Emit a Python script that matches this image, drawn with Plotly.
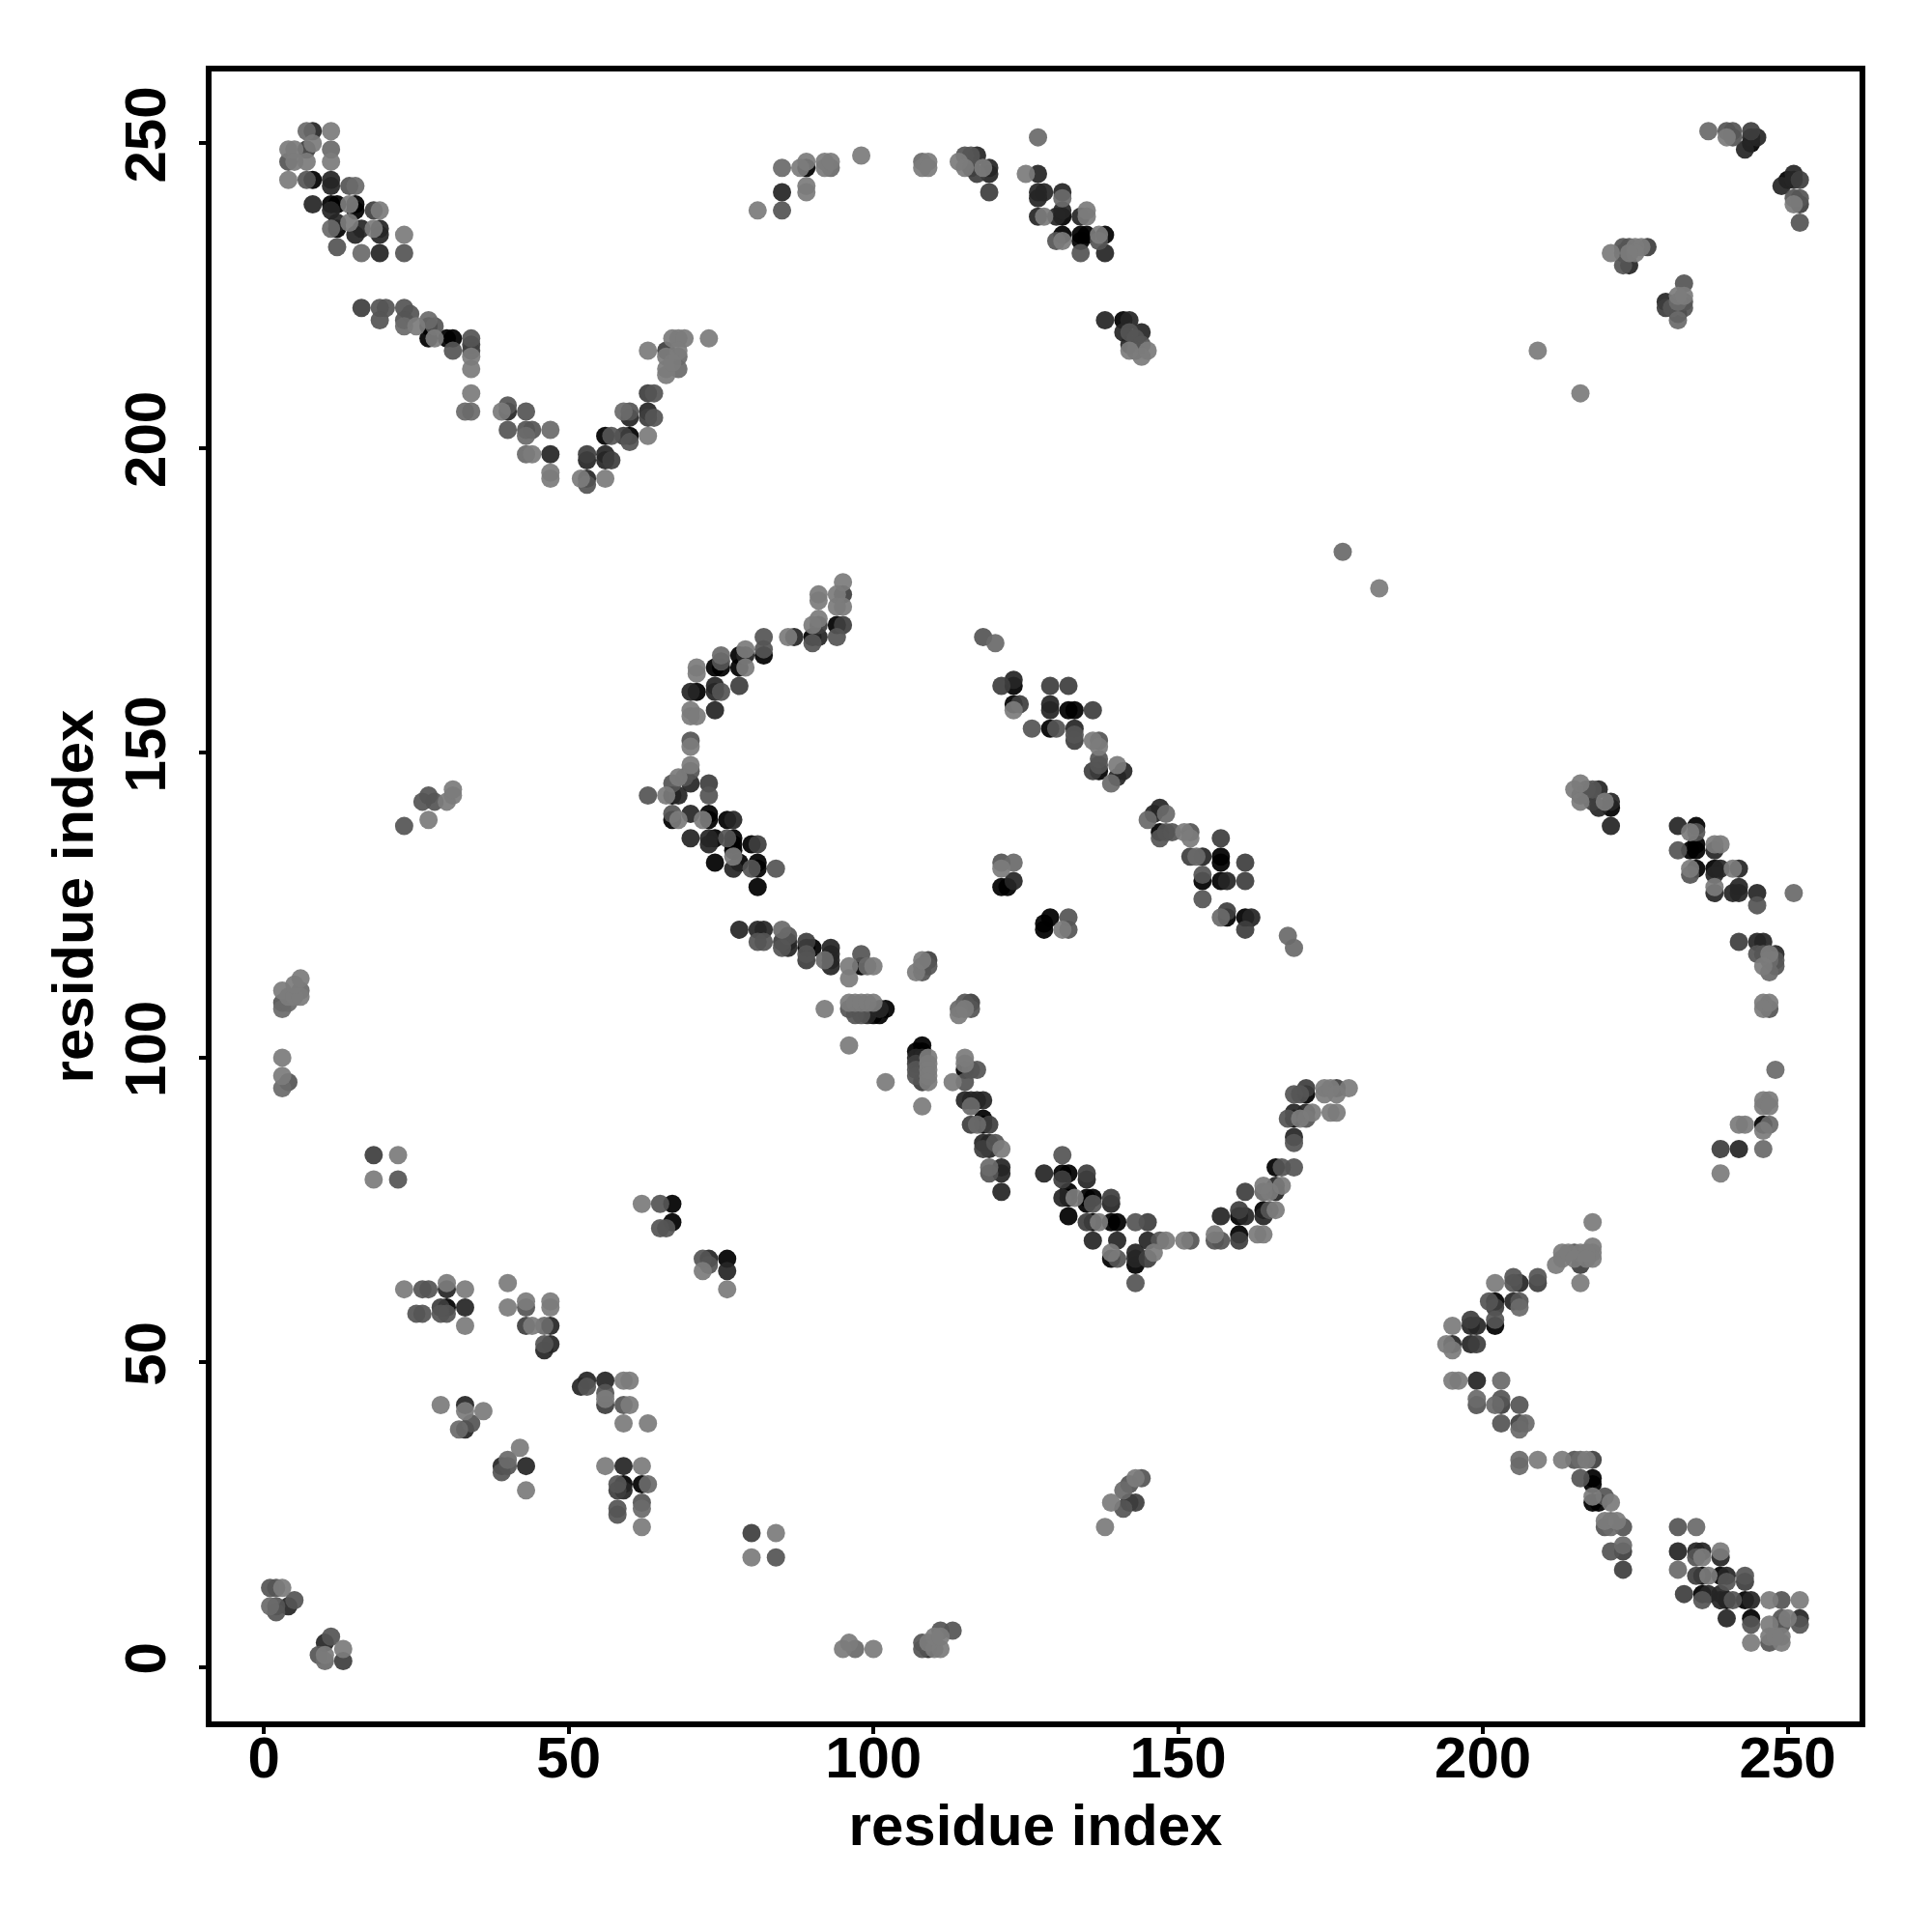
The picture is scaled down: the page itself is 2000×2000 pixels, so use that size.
import plotly.graph_objects as go

# (residue_i, residue_j, score)  score 1 = weak ... 6 = strong
top_left = [(8,252,5),(7,252,2),(11,252,1),(4,249,1),(5,249,1),(8,250,1),(7,249,4),(11,249,2),(4,247,3),(5,247,1),(7,247,1),(11,247,1),
(4,244,1),(7,244,3),(8,244,6),(11,244,5),(11,243,5),(14,243,3),(15,243,2),(8,240,5),(11,240,6),(11,239,5),(12,240,6),(14,240,1),(15,240,6),(15,239,6),(18,239,4),(19,239,1),
(11,236,2),(12,237,5),(12,236,6),(15,235,5),(16,236,5),(14,237,1),(18,236,1),(19,236,5),(19,235,5),(23,235,1),(12,233,3),(16,232,2),(19,232,5),(23,232,3),
(16,223,4),(19,223,3),(20,223,3),(19,221,3),(23,223,3),(24,222,3),(23,221,3),(23,220,2),(25,220,1),(27,221,2),(28,220,3),(27,220,6),(27,218,6),(28,218,1),(30,218,6),(31,218,6),(31,216,3),
(34,218,3),(34,217,4),(34,216,4),(34,215,1),(34,213,1),(34,209,1),(33,206,2),(34,206,2),(39,206,1),(40,207,3),(40,206,5),(43,206,3),(40,203,3),(43,203,3),(44,203,3),(43,202,2),(47,203,2),
(43,199,2),(44,199,1),(47,199,5),(47,196,1),(47,195,1),(52,195,1),(53,195,5),(53,194,3),(56,195,1),(53,199,4),(53,198,5),(56,199,5),(56,198,5),(57,198,4),
(56,202,6),(57,202,3),(59,202,4),(60,202,6),(60,201,3),(59,206,2),(60,206,3),(60,205,5),(63,206,5),(64,205,3),(63,205,4),(63,202,1),(63,209,4),(64,209,3),
(63,216,1),(66,216,4),(67,218,1),(68,218,1),(69,218,1),(73,218,1),(68,216,1),(68,215,2),(66,215,1),(68,213,2),(66,213,1),(66,212,1),(67,214,1)]

top_middle = [(81,239,1),(85,246,2),(85,242,5),(85,239,3),(88,246,1),(89,246,6),(89,247,1),(89,243,1),(89,242,1),(92,247,1),(92,246,1),(93,247,1),(93,246,2),(98,248,1),
(108,247,2),(108,246,1),(109,247,1),(109,246,1),(114,247,1),(115,248,3),(115,246,1),(116,248,3),(116,246,4),(117,248,5),(117,245,4),(118,246,1),(119,246,5),(119,245,5),(119,242,4),
(127,251,2),(125,245,1),(127,245,5),(127,242,5),(127,241,5),(128,242,5),(131,242,5),(131,241,2),(127,238,5),(128,238,1),(130,238,5),(131,239,5),(131,238,6),(134,238,5),(135,239,1),(135,238,1),
(130,234,3),(131,235,6),(131,234,1),(134,235,6),(135,235,6),(134,234,6),(137,234,3),(137,235,1),(138,235,6),(134,232,3),(138,232,5),
(138,221,5),(141,221,6),(142,221,5),(141,219,5),(142,219,3),(144,219,5),(143,218,3),(142,217,5),(144,217,3),(143,216,3),(142,216,1),(144,215,1),(145,216,1)]

centre_ring = [(95,178,1),(91,176,1),(94,176,1),(95,176,4),(91,175,1),(94,174,1),(95,174,1),(90,171,1),(91,172,1),(91,171,4),(91,169,5),(94,171,6),(95,171,4),(94,169,3),(90,169,6),(90,168,3),(86,169,1),(87,169,5),
(82,169,3),(82,167,3),(82,166,6),(79,167,1),(79,166,5),(78,166,6),(79,164,1),(78,164,6),(75,166,2),(75,165,3),(74,164,6),(75,164,6),(71,164,1),(71,163,1),
(70,160,5),(71,160,6),(74,161,5),(74,160,5),(75,160,3),(78,161,4),(70,157,1),(70,156,1),(71,156,1),(74,157,5),(70,152,3),(70,151,1),(70,148,1),(70,147,3),(70,145,5),(68,146,1),(67,145,3),(69,146,3),
(73,145,4),(73,143,3),(63,143,3),(66,143,1),(67,143,6),(68,143,5),(67,140,3),(67,139,6),(68,139,1),(70,140,5),(72,139,1),(73,140,6),(73,139,6),(76,139,6),(77,139,5),
(70,136,5),(73,136,5),(73,135,5),(74,136,6),(76,136,3),(77,136,6),(77,135,6),(77,134,6),(80,135,6),(81,135,4),(74,132,6),(77,133,1),(77,131,5),(78,132,6),(80,131,3),(81,132,6),(81,131,6),(84,131,3),(81,128,6)]

centre_lower = [(78,121,5),(81,121,5),(82,121,5),(81,119,3),(82,119,3),(85,121,2),(86,120,3),(85,119,4),(85,118,3),(86,119,5),(86,118,5),
(89,119,4),(89,118,6),(89,117,3),(89,116,4),(90,118,6),(92,116,2),(93,118,5),(93,117,5),(93,116,5),(93,115,5),(96,115,1),(96,113,1),(98,117,3),(98,115,6),(99,115,2),(100,115,1),
(92,108,1),(96,109,1),(96,108,3),(97,109,1),(97,107,3),(98,109,1),(98,107,3),(99,109,1),(99,108,5),(99,107,5),(100,109,1),(100,107,6),(101,108,5),(101,107,6),(102,108,6),
(107,114,1),(108,114,3),(108,115,3),(109,115,3),(109,116,4),(108,116,1),(114,107,1),(114,108,2),(115,109,3),(115,108,1),(116,109,4),(116,108,3),
(96,102,1),(102,96,1),(108,92,1),(108,102,6),(107,101,6),(108,101,6),(107,100,5),(108,100,5),(107,99,4),(108,99,5),(107,98,3),(107,97,3),(108,96,4),
(109,100,1),(109,99,1),(109,98,1),(109,97,1),(109,96,1),(113,96,1),(115,100,1),(115,99,1),(115,96,3),(115,98,6),(116,98,3),(117,98,3),
(115,93,5),(116,93,5),(116,92,2),(117,93,5),(118,93,5),(116,89,4),(117,89,2),(118,90,6),(118,89,6),(119,89,4),(118,86,5),(119,86,5),(118,85,4),(119,85,5),(120,86,3),(121,85,1),
(119,82,2),(119,81,3),(121,82,5),(121,81,5),(121,78,5)]

centre_diag = [(118,169,3),(120,168,2),(121,161,4),(123,162,5),(123,161,6),(123,158,6),(124,158,4),(123,157,1),(126,154,3),(129,161,4),(132,161,4),(129,158,5),(129,157,5),(132,157,6),(133,157,6),(136,157,4),
(129,154,6),(130,154,3),(133,154,5),(133,153,3),(133,152,4),(136,152,1),(137,152,3),(137,151,1),(137,149,3),(137,148,3),(136,147,4),(137,147,6),(140,148,1),(141,147,5),(140,146,5),(139,145,2),
(145,139,2),(146,140,5),(147,141,5),(148,140,2),(147,137,6),(147,136,3),(148,137,3),(149,137,3),(151,137,1),(152,137,3),(152,136,1),(152,133,4),(153,133,2),(154,133,5),(157,136,4),(157,133,6),(157,132,6),
(154,130,3),(154,129,6),(157,129,6),(158,129,5),(161,132,4),(161,129,4),(154,126,3),(157,123,2),(158,124,4),(158,123,6),(161,123,6),(162,123,5),(161,121,4),(168,120,2),(169,118,2),
(121,132,3),(123,132,2),(121,131,1),(121,128,6),(122,128,6),(123,129,5),(128,121,6),(128,122,6),(129,123,6),(132,123,3),(131,121,1),(132,121,3)]

u_curve = [(128,81,5),(131,84,3),(131,81,6),(132,81,6),(131,80,4),(135,81,4),(135,80,5),(131,77,5),(132,78,6),(132,77,6),(133,77,1),(135,77,6),(136,77,6),(135,76,6),(136,76,3),(139,77,4),(139,76,5),
(132,74,6),(135,73,4),(136,73,6),(137,73,1),(139,73,6),(140,73,6),(143,73,3),(145,73,4),(136,70,5),(140,70,5),(145,70,5),(147,70,3),(148,70,1),(151,70,1),(152,70,3),
(139,68,1),(139,67,6),(140,67,3),(143,68,5),(143,67,5),(143,66,6),(145,67,4),(146,68,1),(143,63,3),(156,71,1),(156,70,3),(157,70,3),(160,71,6),(160,70,4),(163,71,1),(164,71,1),
(157,74,5),(160,75,4),(160,74,6),(161,74,5),(164,75,6),(164,74,5),(165,75,3),(166,75,1),(161,78,4),(164,78,2),(165,78,1),(164,79,1),(166,78,5),(166,79,5),(167,79,1),(166,82,6),(167,82,3),(169,82,3),
(169,87,5),(169,86,3),(168,90,3),(169,91,5),(169,90,6),(170,90,1),(171,91,5),(171,90,3),(172,91,1),(169,94,3),(170,94,3),(171,95,4),(171,94,6),(174,95,1),(174,94,1),(175,95,1),(176,95,4),(176,94,1),(178,95,1),(175,91,1),(176,91,1),
(177,183,2),(183,177,1),(209,216,1),(216,209,1)]

lower_left = [(23,62,1),(26,62,3),(27,62,3),(30,63,1),(30,62,5),(33,62,1),(25,58,3),(26,58,3),(29,59,4),(29,58,3),(30,59,6),(30,58,3),(33,59,5),(33,56,1),
(40,63,1),(40,59,1),(43,60,1),(43,59,3),(47,60,1),(47,59,1),(43,56,4),(44,56,1),(46,56,2),(47,56,5),(46,53,3),(46,52,5),(47,53,5),
(52,46,5),(53,47,5),(53,46,3),(56,47,5),(56,45,3),(56,44,1),(56,43,4),(59,47,1),(60,47,1),(59,43,3),(60,43,1),(59,40,1),(63,40,1),
(29,43,1),(33,43,5),(33,42,1),(36,42,1),(34,40,3),(32,39,2),(33,39,5),(42,36,1),(40,34,2),(39,33,5),(39,32,3),(40,33,3),(43,33,5),(43,29,1),
(56,33,1),(59,33,5),(62,33,1),(58,30,3),(58,29,4),(59,30,6),(59,29,5),(62,30,6),(63,30,2),(58,26,3),(58,25,3),(62,27,3),(62,26,2),(62,23,1),
(1,13,3),(2,13,3),(3,13,1),(1,10,2),(2,10,3),(2,9,3),(4,10,5),(5,11,3),(11,5,3),(10,4,5),(9,2,3),(10,2,1),(10,1,2),(13,3,1),(13,1,4)]

small_groups = [(18,84,4),(22,84,1),(18,80,1),(22,80,3),(80,22,4),(84,22,1),(80,18,1),(84,18,3),(23,138,3),(27,139,1),(26,142,3),(27,143,3),(28,142,3),(30,142,1),(31,143,1),(31,144,1),
(3,100,1),(3,97,1),(3,95,2),(4,96,3),(3,111,1),(3,109,3),(3,108,2),(4,110,1),(4,109,2),(5,110,1),(6,113,1),(6,111,2),(6,110,1),(5,112,1),
(62,76,1),(65,76,3),(67,76,6),(65,72,3),(66,72,3),(67,73,6),(72,65,1),(73,67,5),(76,67,6),(73,66,3),(76,65,5),(76,62,1),(72,67,3),
(95,3,1),(96,4,1),(97,3,2),(100,3,1),(108,3,3),(109,4,1),(110,3,1),(111,6,3),(111,3,1),(110,5,1),(113,6,3),(111,5,1),(109,3,5),(108,4,3),
(138,23,1),(139,27,1),(141,26,3),(143,27,4),(142,30,3),(143,31,1),(144,31,3),(142,27,5),(141,29,2)]

lower_right = [(218,73,1),(218,69,1),(218,68,1),(218,67,1),(213,68,1),(213,67,1),(212,66,1),(214,68,1),(215,68,3),(216,68,1),(217,68,1),(215,67,1),(216,66,4),(217,67,1),(216,63,1),
(202,63,1),(205,64,3),(205,63,3),(206,63,5),(209,64,3),(209,63,4),(201,60,3),(202,60,6),(202,59,4),(205,60,5),(206,60,3),(206,59,2),
(198,57,4),(198,56,5),(199,56,5),(195,56,1),(202,57,3),(202,56,6),(194,53,1),(195,53,5),(195,52,1),(198,53,5),(199,53,4),
(195,47,1),(196,47,1),(199,47,5),(203,47,2),(199,44,2),(199,43,3),(202,43,2),(203,44,3),(203,43,4),(206,43,3),(203,40,3),(206,40,4),(206,39,2),(207,40,2),
(206,34,2),(206,33,2),(209,34,1),(213,34,1),(215,34,3),(216,34,2),(217,34,1),(218,34,4),(216,31,3),(218,31,6),(218,30,6),(218,28,1),(218,27,6),(219,27,6),(220,28,3),(221,27,1),
(220,24,1),(221,24,2),(220,23,3),(221,23,2),(222,24,1),(223,23,3),(221,19,3),(223,20,2),(223,19,4),(223,16,4),
(232,23,3),(235,23,2),(232,19,5),(235,19,5),(236,19,5),(235,18,3),(236,18,1),(239,19,1),(239,18,5),(232,16,2),(235,15,4),(236,15,6),(237,15,1),(239,15,6),(240,15,5),(240,14,3),(243,15,3),(243,14,4),
(233,12,4),(236,12,6),(237,12,5),(236,11,3),(239,12,5),(239,11,5),(240,11,6),(241,11,3),(243,11,6),(244,11,5),(247,11,1),(249,11,3),(252,11,1),
(240,8,5),(244,8,6),(244,7,3),(247,7,1),(249,8,3),(249,7,3),(250,8,1),(252,8,5),(252,7,3),(244,4,1),(247,4,3),(247,5,1),(249,5,1),(249,4,1),(248,5,1)]

top_right = [(237,252,2),(240,252,3),(241,252,3),(240,251,1),(241,251,3),(244,252,4),(245,251,5),(244,251,5),(243,249,5),(244,250,6),(251,245,5),(250,244,6),(249,243,5),(252,244,4),(251,244,5),
(251,241,3),(252,241,3),(252,240,4),(251,240,1),(252,237,3),(221,232,1),(223,233,3),(224,233,3),(225,233,1),(226,233,1),(227,233,4),(223,232,3),(225,232,1),(224,232,1),(223,230,3),(224,230,5),
(233,227,3),(232,225,1),(233,225,1),(232,224,2),(233,224,3),(233,223,3),(230,224,5),(230,223,4),(231,223,3),(232,222,6),(232,221,2)]

right_side = [(216,145,1),(215,144,1),(216,143,3),(216,142,1),(217,144,3),(218,144,3),(219,144,5),(217,143,5),(218,142,4),(219,141,5),(220,142,1),(221,142,5),(221,141,6),(221,138,5),
(232,138,5),(235,138,6),(234,137,1),(235,137,3),(232,134,3),(234,134,6),(235,134,6),(235,135,6),(238,135,1),(239,135,1),(238,134,5),(234,131,1),(234,130,3),(235,131,6),
(238,131,6),(239,131,5),(241,131,1),(242,131,5),(238,130,5),(238,128,1),(238,127,5),(241,127,5),(242,128,5),(242,127,5),(245,127,5),(245,125,3),(251,127,2),
(242,119,4),(245,119,5),(246,119,5),(245,117,3),(246,117,3),(247,117,1),(248,117,5),(248,116,3),(247,116,2),(246,115,1),(248,115,3),(247,114,2),
(246,109,1),(247,109,1),(246,108,1),(247,108,3),(248,98,2),(246,93,1),(247,93,1),(246,92,1),(247,92,1),(242,89,1),(243,89,1),(246,89,6),(247,89,2),(246,88,1),
(239,85,4),(242,85,5),(246,85,2),(239,81,1)]

tick_values = [0, 50, 100, 150, 200, 250]
axis_label = "residue index"

contacts = (top_left + top_middle + centre_ring + centre_lower + centre_diag + u_curve
            + lower_left + small_groups + lower_right + top_right + right_side)
contacts = sorted(contacts, key=lambda c: -c[2])

fig = go.Figure(go.Scatter(
    x=[c[0] for c in contacts],
    y=[c[1] for c in contacts],
    mode="markers",
    marker=dict(size=19, color=[c[2] for c in contacts], cmin=1, cmax=6,
                colorscale=[[0, "rgb(124,124,124)"], [0.2, "rgb(107,107,107)"], [0.4, "rgb(85,85,85)"],
                            [0.6, "rgb(62,62,62)"], [0.8, "rgb(38,38,38)"], [1, "rgb(0,0,0)"]],
                opacity=0.93, line=dict(width=0), showscale=False),
    showlegend=False, hoverinfo="skip"))

font = dict(family="Liberation Sans", size=60, color="black", weight="bold")
common = dict(tickvals=tick_values, ticks="outside", ticklen=7, tickwidth=3.5, tickcolor="black",
              showline=True, linewidth=6, linecolor="black", mirror=True, showgrid=False, zeroline=False,
              tickfont=font, automargin=False)
fig.update_xaxes(range=[-8.6, 261.8], ticklabelstandoff=-27,
                 title=dict(text=axis_label, font=font, standoff=18), **common)
fig.update_yaxes(range=[-8.9, 261.8], tickangle=-90, ticklabelstandoff=11,
                 title=dict(text=axis_label, font=font, standoff=3), **common)
fig.update_layout(width=1984, height=1984, autosize=False, paper_bgcolor="white", plot_bgcolor="white",
                  margin=dict(l=210.7, r=67.3, t=65.6, b=210.3))
fig.write_html("out.html")
